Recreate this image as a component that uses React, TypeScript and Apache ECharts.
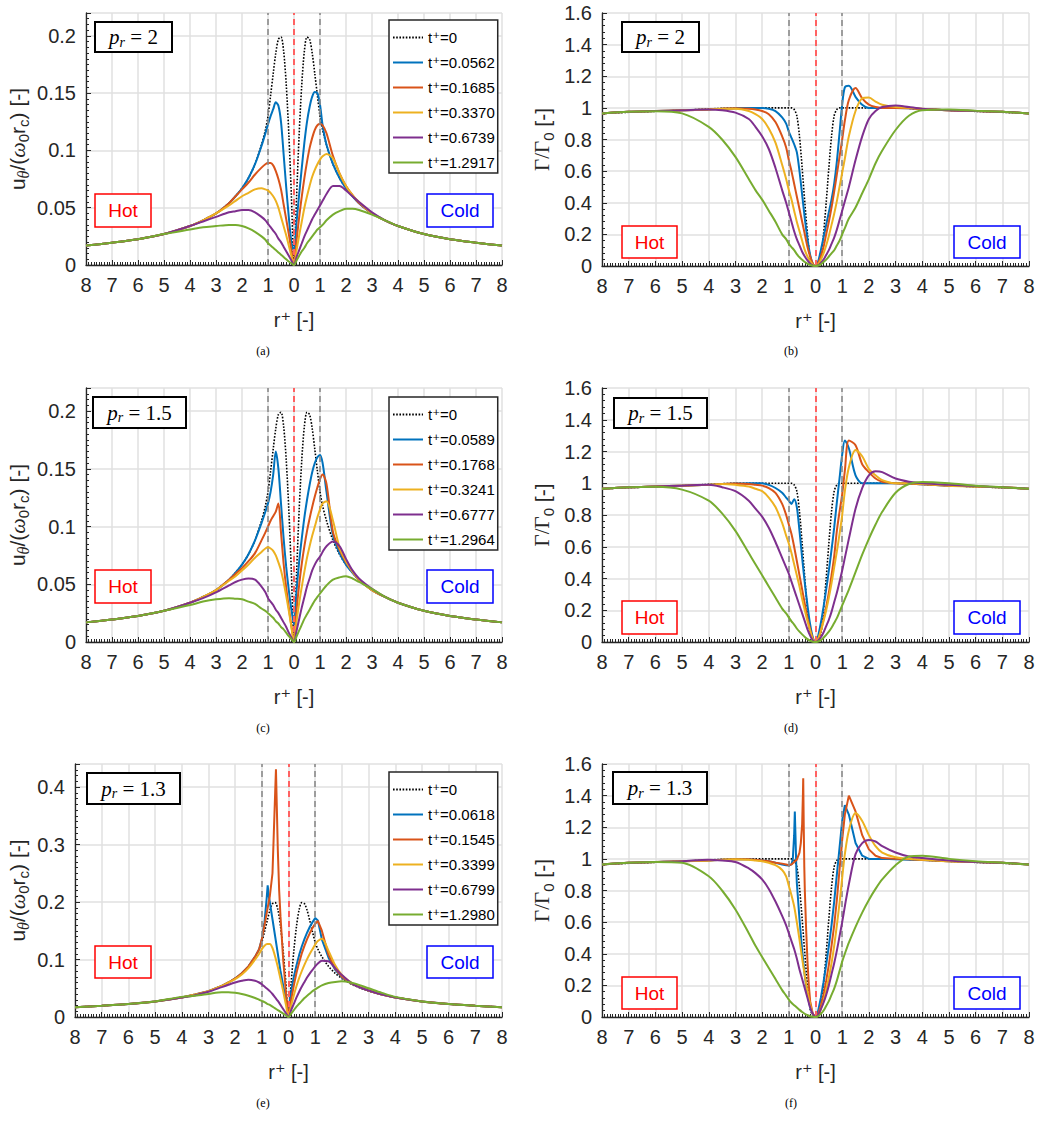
import React, { useEffect, useRef } from 'react';
import * as echarts from 'echarts';

const SANS = '"Liberation Sans", Arial, Helvetica, "DejaVu Sans", sans-serif';
const SERIF = '"Liberation Serif", "DejaVu Serif", "Times New Roman", serif';
const INK = '#262626';

// ---------- radial positions r+ (negative = hot side, labelled by |r|) ----------
const R_NEG = [-8, -7, -6, -5, -4, -3.5, -3, -2.5, -2.25, -2, -1.75, -1.5, -1.25, -1.1, -1, -0.9, -0.8, -0.7, -0.6, -0.5, -0.4, -0.3, -0.2, -0.1];
const R_POS = [0.1, 0.2, 0.3, 0.4, 0.5, 0.6, 0.7, 0.8, 0.9, 1, 1.1, 1.25, 1.5, 1.75, 2, 2.25, 2.5, 3, 3.5, 4, 5, 6, 7, 8];
const R = [...R_NEG, 0, ...R_POS];
const R_E_BLUE = [-8, -7, -6, -5, -4, -3.5, -3, -2.5, -2.25, -2, -1.75, -1.5, -1.25, -1.1, -1, -0.9, -0.82, -0.78, -0.74, -0.7, -0.6, -0.5, -0.4, -0.3, -0.2, -0.1, 0, ...R_POS];
const R_E_ORANGE = [-8, -7, -6, -5, -4, -3.5, -3, -2.5, -2.25, -2, -1.75, -1.5, -1.25, -1.1, -1, -0.9, -0.8, -0.7, -0.6, -0.55, -0.5, -0.47, -0.44, -0.4, -0.35, -0.3, -0.2, -0.1, 0, ...R_POS];
const R_F_BLUE = [-8, -7, -6, -5, -4, -3.5, -3, -2.5, -2.25, -2, -1.75, -1.5, -1.25, -1.1, -1, -0.9, -0.85, -0.8, -0.775, -0.75, -0.72, -0.7, -0.6, -0.5, -0.4, -0.3, -0.2, -0.1, 0, ...R_POS];
const R_F_ORANGE = [-8, -7, -6, -5, -4, -3.5, -3, -2.5, -2.25, -2, -1.75, -1.5, -1.25, -1.1, -1, -0.9, -0.8, -0.7, -0.6, -0.55, -0.5, -0.47, -0.46, -0.44, -0.42, -0.4, -0.35, -0.3, -0.25, -0.2, -0.1, 0, ...R_POS];

// ---------- legend labels ----------
const T_A = ['t⁺=0', 't⁺=0.0562', 't⁺=0.1685', 't⁺=0.3370', 't⁺=0.6739', 't⁺=1.2917'];
const T_C = ['t⁺=0', 't⁺=0.0589', 't⁺=0.1768', 't⁺=0.3241', 't⁺=0.6777', 't⁺=1.2964'];
const T_E = ['t⁺=0', 't⁺=0.0618', 't⁺=0.1545', 't⁺=0.3399', 't⁺=0.6799', 't⁺=1.2980'];
const P_R = ['2', '2', '1.5', '1.5', '1.3', '1.3'];
const CAPTIONS = ['(a)', '(b)', '(c)', '(d)', '(e)', '(f)'];

// ---------- initial profiles (t+=0) ----------
const uInit = [
  .017, .0195, .0225, .027, .034, .039, .045, .054,
  .06, .067, .076, .088, .105, .118, .13, .148,
  .167, .185, .197, .199, .187, .158, .115, .06,
  0,
  .06, .115, .158, .187, .199, .197, .185, .167,
  .148, .13, .118, .105, .088, .076, .067, .06,
  .054, .045, .039, .034, .027, .0225, .0195, .017];
const gInit = [
  .965, .972, .978, .985, .993, .997, 1, 1,
  1, 1, 1, 1, 1, 1, 1, 1,
  .99, .95, .82, .62, .4, .2, .05, .01,
  0,
  .01, .05, .2, .4, .62, .82, .95, .99,
  1, 1, 1, 1, 1, 1, 1, 1,
  1, 1, .997, .993, .985, .978, .972, .965];

// ---------- (a) u, p_r = 2 ----------
const aBlue = [
  .017, .0195, .0225, .027, .034, .039, .045, .054,
  .06, .067, .076, .088, .104, .115, .123, .13,
  .136, .142, .139, .125, .097, .068, .042, .02,
  .012,
  .038, .062, .085, .107, .125, .138, .147, .151,
  .15, .14, .122, .105, .088, .076, .067, .06,
  .054, .045, .039, .034, .027, .0225, .0195, .017];
const aOrange = [
  .017, .0195, .0225, .027, .034, .039, .045, .054,
  .06, .066, .072, .079, .085, .088, .089, .089,
  .087, .082, .075, .066, .053, .04, .027, .013,
  0,
  .022, .042, .06, .076, .09, .102, .111, .118,
  .122, .123, .122, .115, .095, .08, .069, .061,
  .054, .045, .039, .034, .027, .0225, .0195, .017];
const aYellow = [
  .017, .0195, .0225, .027, .034, .039, .045, .052,
  .056, .06, .063, .066, .067, .066, .065, .063,
  .06, .056, .05, .042, .034, .026, .017, .008,
  0,
  .013, .026, .038, .05, .06, .069, .077, .083,
  .088, .092, .095, .097, .093, .08, .069, .061,
  .055, .045, .039, .034, .027, .0225, .0195, .017];
const aPurple = [
  .017, .0195, .0225, .027, .034, .038, .042, .046,
  .047, .048, .048, .046, .042, .039, .036, .033,
  .03, .027, .023, .02, .016, .012, .008, .004,
  0,
  .007, .013, .019, .025, .03, .035, .04, .044,
  .048, .052, .056, .062, .069, .069, .065, .06,
  .055, .046, .039, .034, .027, .0225, .0195, .017];
const aGreen = [
  .017, .0195, .0225, .027, .031, .033, .034, .035,
  .035, .034, .032, .029, .025, .022, .019, .017,
  .015, .013, .011, .009, .007, .005, .003, .0015,
  0,
  .004, .008, .012, .015, .019, .022, .025, .028,
  .031, .033, .035, .039, .044, .047, .049, .049,
  .048, .044, .039, .034, .027, .0225, .0195, .017];

// ---------- (b) Gamma, p_r = 2 ----------
const bBlue = [
  .965, .975, .98, .985, .99, .995, .998, 1,
  1, 1, .995, .98, .94, .9, .85, .81,
  .77, .72, .6, .45, .3, .17, .07, .015,
  0,
  .03, .1, .18, .26, .34, .42, .52, .66,
  .84, 1.02, 1.13, 1.14, 1.07, 1.02, 1, 1,
  1, 1, .998, .993, .985, .98, .975, .965];
const bOrange = [
  .965, .975, .98, .985, .99, .995, .998, .995,
  .99, .98, .96, .91, .82, .75, .67, .6,
  .52, .44, .36, .28, .2, .12, .06, .015,
  0,
  .02, .06, .12, .2, .28, .37, .47, .58,
  .69, .8, .92, 1.05, 1.125, 1.06, 1.02, 1.005,
  1, 1, .998, .993, .985, .98, .975, .965];
const bYellow = [
  .965, .975, .98, .985, .99, .995, .995, .98,
  .96, .93, .87, .78, .64, .55, .48, .42,
  .35, .28, .22, .16, .1, .06, .03, .01,
  0,
  .01, .04, .08, .13, .19, .26, .33, .41,
  .5, .59, .68, .82, .98, 1.06, 1.065, 1.04,
  1.02, 1.005, 1, .995, .985, .98, .975, .965];
const bPurple = [
  .965, .975, .98, .985, .99, .985, .97, .93,
  .88, .82, .74, .62, .48, .4, .34, .28,
  .22, .17, .13, .09, .06, .035, .015, .004,
  0,
  .005, .02, .04, .07, .1, .14, .18, .23,
  .29, .35, .41, .5, .67, .82, .93, .98,
  1.005, 1.015, 1.005, .995, .985, .98, .975, .965];
const bGreen = [
  .965, .975, .978, .965, .88, .8, .69, .55,
  .48, .42, .35, .28, .2, .17, .14, .12,
  .1, .075, .055, .04, .025, .015, .006, .002,
  0,
  .003, .01, .025, .04, .06, .08, .1, .13,
  .16, .2, .24, .3, .37, .46, .55, .65,
  .73, .86, .95, .985, .99, .982, .975, .965];

// ---------- (c) u, p_r = 1.5 ----------
const cBlue = [
  .017, .0195, .0225, .027, .034, .039, .045, .054,
  .06, .067, .076, .088, .103, .113, .12, .13,
  .145, .165, .15, .12, .09, .065, .045, .028,
  .015,
  .045, .07, .09, .108, .123, .136, .147, .155,
  .16, .162, .155, .13, .092, .077, .067, .06,
  .054, .045, .039, .034, .027, .0225, .0195, .017];
const cOrange = [
  .017, .0195, .0225, .027, .034, .039, .045, .054,
  .059, .064, .07, .077, .088, .095, .1, .105,
  .109, .113, .12, .095, .068, .047, .03, .014,
  0,
  .028, .05, .068, .083, .096, .107, .117, .126,
  .134, .141, .145, .137, .095, .08, .069, .061,
  .054, .045, .039, .034, .027, .0225, .0195, .017];
const cYellow = [
  .017, .0195, .0225, .027, .034, .039, .045, .053,
  .057, .062, .067, .073, .078, .081, .082, .081,
  .079, .075, .069, .062, .052, .04, .027, .013,
  0,
  .018, .034, .048, .061, .073, .083, .092, .1,
  .108, .115, .12, .122, .105, .082, .07, .061,
  .054, .045, .039, .034, .027, .0225, .0195, .017];
const cPurple = [
  .017, .0195, .0225, .027, .034, .038, .043, .049,
  .052, .054, .055, .054, .048, .043, .038, .035,
  .032, .028, .025, .021, .017, .013, .008, .004,
  0,
  .01, .02, .03, .039, .048, .055, .062, .067,
  .071, .074, .078, .083, .087, .083, .072, .062,
  .055, .046, .039, .034, .027, .0225, .0195, .017];
const cGreen = [
  .017, .0195, .0225, .027, .032, .035, .037, .038,
  .0375, .037, .035, .033, .029, .027, .025, .023,
  .021, .018, .016, .013, .011, .008, .005, .0025,
  0,
  .005, .01, .015, .02, .024, .028, .032, .036,
  .039, .042, .045, .049, .054, .056, .057, .055,
  .052, .046, .039, .034, .027, .0225, .0195, .017];

// ---------- (d) Gamma, p_r = 1.5 ----------
const dBlue = [
  .965, .975, .98, .985, .99, .995, .998, 1,
  1, 1, .99, .97, .94, .91, .89, .87,
  .9, .85, .7, .53, .37, .23, .11, .03,
  0,
  .04, .12, .22, .33, .45, .58, .72, .88,
  1.03, 1.18, 1.27, 1.22, 1.05, 1, 1, 1,
  1, 1, .998, .993, .985, .98, .975, .965];
const dOrange = [
  .965, .975, .98, .985, .99, .995, .998, .995,
  .99, .985, .97, .94, .87, .8, .74, .68,
  .6, .51, .42, .33, .24, .15, .08, .02,
  0,
  .02, .07, .14, .22, .31, .42, .54, .7,
  .82, .93, 1.08, 1.27, 1.24, 1.12, 1.07, 1.03,
  1.01, 1, .998, .993, .985, .98, .975, .965];
const dYellow = [
  .965, .975, .98, .985, .99, .995, .99, .98,
  .965, .95, .91, .85, .75, .67, .62, .56,
  .49, .42, .35, .27, .2, .13, .07, .02,
  0,
  .02, .07, .13, .2, .28, .37, .47, .57,
  .68, .8, .95, 1.1, 1.21, 1.17, 1.09, 1.05,
  1.02, 1, 1, .995, .985, .98, .975, .965];
const dPurple = [
  .965, .975, .98, .985, .99, .975, .95, .89,
  .84, .79, .72, .63, .53, .47, .43, .38,
  .33, .28, .23, .18, .13, .08, .04, .01,
  0,
  .01, .03, .06, .1, .14, .19, .25, .31,
  .38, .45, .53, .65, .84, .97, 1.05, 1.075,
  1.07, 1.03, 1.01, 1, .99, .982, .975, .965];
const dGreen = [
  .965, .975, .978, .96, .89, .81, .7, .56,
  .49, .42, .35, .28, .21, .18, .155, .13,
  .11, .085, .065, .048, .032, .018, .008, .002,
  0,
  .003, .012, .027, .045, .065, .09, .12, .15,
  .19, .23, .27, .33, .44, .55, .65, .74,
  .82, .94, .995, 1.008, 1, .985, .975, .965];

// ---------- (e) u, p_r = 1.3 ----------
const eBlue = [
  .017, .0195, .0225, .027, .034, .039, .045, .054,
  .06, .067, .076, .088, .105, .118, .135, .165,
  .205, .229, .21, .2, .17, .14, .11, .08, .055, .03,
  .012,
  .045, .07, .09, .108, .123, .136, .147, .157,
  .165, .172, .168, .135, .103, .082, .069, .061,
  .055, .046, .039, .034, .027, .0225, .0195, .017];
const eOrange = [
  .017, .0195, .0225, .027, .034, .039, .045, .054,
  .06, .067, .076, .088, .105, .118, .135, .16,
  .185, .21, .25, .32, .39, .431, .37, .29, .22, .175, .1, .045,
  0,
  .03, .055, .077, .095, .111, .124, .136, .146,
  .155, .162, .167, .15, .108, .084, .07, .061,
  .055, .046, .039, .034, .027, .0225, .0195, .017];
const eYellow = [
  .017, .0195, .0225, .027, .034, .039, .045, .054,
  .06, .066, .074, .085, .1, .11, .118, .124,
  .127, .127, .12, .105, .087, .066, .045, .022,
  0,
  .02, .038, .054, .068, .08, .091, .101, .11,
  .118, .126, .132, .136, .115, .09, .073, .063,
  .056, .046, .039, .034, .027, .0225, .0195, .017];
const ePurple = [
  .017, .0195, .0225, .027, .034, .038, .044, .052,
  .056, .06, .063, .065, .063, .06, .057, .053,
  .049, .045, .04, .034, .028, .021, .014, .007,
  0,
  .012, .023, .034, .044, .053, .061, .069, .076,
  .082, .088, .093, .098, .097, .085, .073, .063,
  .055, .046, .039, .034, .027, .0225, .0195, .017];
const eGreen = [
  .017, .0195, .0225, .027, .035, .037, .04, .043,
  .043, .042, .04, .037, .033, .03, .028, .026,
  .023, .021, .018, .015, .012, .009, .006, .003,
  0,
  .006, .012, .018, .023, .028, .033, .037, .041,
  .045, .048, .051, .055, .059, .061, .062, .061,
  .058, .05, .042, .035, .027, .0225, .0195, .017];

// ---------- (f) Gamma, p_r = 1.3 ----------
const fBlue = [
  .965, .975, .98, .985, .99, .995, .998, .998,
  .995, .99, .985, .975, .965, .96, .958, .965,
  1.0, 1.15, 1.3, 1.15, .95, .85, .62, .42, .26, .14, .06, .015,
  0,
  .04, .12, .22, .33, .45, .58, .73, .9,
  1.07, 1.24, 1.34, 1.28, 1.1, 1.02, 1, 1,
  1, .998, .995, .993, .985, .98, .975, .965];
const fOrange = [
  .965, .975, .98, .985, .99, .995, .998, .998,
  .995, .99, .985, .975, .97, .965, .96, .965,
  .98, .995, 1.04, 1.1, 1.22, 1.42, 1.51, 1.2, .95, .8, .55, .35, .2, .1, .02,
  0,
  .02, .07, .14, .23, .33, .45, .58, .74,
  .93, 1.12, 1.28, 1.4, 1.3, 1.15, 1.06, 1.02,
  1.005, 1, .997, .993, .985, .98, .975, .965];
const fYellow = [
  .965, .975, .98, .985, .99, .995, .998, .995,
  .99, .985, .975, .96, .93, .89, .83, .77,
  .7, .6, .49, .37, .26, .16, .08, .02,
  0,
  .01, .05, .1, .17, .25, .34, .45, .58,
  .72, .88, 1.03, 1.18, 1.29, 1.24, 1.15, 1.08,
  1.04, 1.01, 1, .995, .985, .98, .975, .965];
const fPurple = [
  .965, .975, .98, .985, .995, .99, .98, .94,
  .91, .87, .81, .73, .64, .58, .53, .48,
  .43, .37, .3, .24, .18, .12, .06, .02,
  0,
  .015, .05, .09, .14, .2, .27, .34, .42,
  .51, .6, .7, .84, 1.03, 1.1, 1.12, 1.11,
  1.08, 1.04, 1.015, 1.005, .99, .98, .975, .965];
const fGreen = [
  .965, .975, .98, .975, .89, .8, .68, .53,
  .45, .38, .31, .24, .17, .135, .11, .09,
  .075, .06, .045, .032, .02, .012, .005, .001,
  0,
  .005, .02, .04, .07, .1, .14, .18, .23,
  .29, .35, .4, .47, .57, .66, .74, .81,
  .87, .96, 1.015, 1.02, 1, .985, .975, .965];

// ---------- styling ----------
const COLORS = ['#000000', '#0072BD', '#D95319', '#EDB120', '#7E2F8E', '#77AC30'];

type Panel = {
  grid: { left: number; top: number; width: number; height: number };
  kind: 'u' | 'g';
  yMax: number;
  yInterval: number;
  yMinor: number;
  nameGap: number;
  names: string[];
  xs: number[][];
  ys: number[][];
  smooth: boolean[];
  pBox: number[];
  hot: number[];
  cold: number[];
  caption: number[];
  legend?: number[];
};

const PANELS: Panel[] = [
  {
    grid: { left: 86, top: 13, width: 416, height: 252 }, kind: 'u', yMax: 0.22, yInterval: 0.05, yMinor: 10, nameGap: 55,
    names: T_A, xs: [R, R, R, R, R, R], ys: [uInit, aBlue, aOrange, aYellow, aPurple, aGreen], smooth: [true, true, true, true, true, true],
    pBox: [95, 22, 77, 30], hot: [95, 194, 56, 33], cold: [427, 194, 66, 33], caption: [263, 351], legend: [389, 20],
  },
  {
    grid: { left: 602, top: 13, width: 427, height: 253 }, kind: 'g', yMax: 1.6, yInterval: 0.2, yMinor: 5, nameGap: 46,
    names: T_A, xs: [R, R, R, R, R, R], ys: [gInit, bBlue, bOrange, bYellow, bPurple, bGreen], smooth: [true, true, true, true, true, true],
    pBox: [622, 22, 77, 30], hot: [622, 226, 55, 32], cold: [954, 226, 66, 32], caption: [791, 351],
  },
  {
    grid: { left: 86, top: 388, width: 416, height: 254 }, kind: 'u', yMax: 0.22, yInterval: 0.05, yMinor: 10, nameGap: 55,
    names: T_C, xs: [R, R, R, R, R, R], ys: [uInit, cBlue, cOrange, cYellow, cPurple, cGreen], smooth: [true, true, true, true, true, true],
    pBox: [93, 397, 93, 31], hot: [95, 570, 56, 33], cold: [427, 570, 66, 33], caption: [263, 728], legend: [389, 397],
  },
  {
    grid: { left: 602, top: 388, width: 427, height: 254 }, kind: 'g', yMax: 1.6, yInterval: 0.2, yMinor: 5, nameGap: 46,
    names: T_C, xs: [R, R, R, R, R, R], ys: [gInit, dBlue, dOrange, dYellow, dPurple, dGreen], smooth: [true, true, true, true, true, true],
    pBox: [614, 398, 93, 30], hot: [622, 601, 55, 33], cold: [954, 601, 66, 33], caption: [791, 728],
  },
  {
    grid: { left: 75, top: 764, width: 427, height: 253 }, kind: 'u', yMax: 0.44, yInterval: 0.1, yMinor: 10, nameGap: 44,
    names: T_E, xs: [R, R_E_BLUE, R_E_ORANGE, R, R, R], ys: [uInit, eBlue, eOrange, eYellow, ePurple, eGreen], smooth: [true, false, false, true, true, true],
    pBox: [87, 773, 93, 31], hot: [95, 946, 56, 32], cold: [427, 946, 66, 32], caption: [263, 1103], legend: [389, 772],
  },
  {
    grid: { left: 602, top: 764, width: 427, height: 253 }, kind: 'g', yMax: 1.6, yInterval: 0.2, yMinor: 5, nameGap: 46,
    names: T_E, xs: [R, R_F_BLUE, R_F_ORANGE, R, R, R], ys: [gInit, fBlue, fOrange, fYellow, fPurple, fGreen], smooth: [true, false, false, true, true, true],
    pBox: [613, 772, 94, 32], hot: [622, 977, 55, 32], cold: [954, 977, 66, 32], caption: [791, 1103],
  },
];

const zip = (xs: number[], ys: number[]) => xs.map((x, i) => [x, ys[i]]);

const nameRich = {
  n: { fontSize: 21, fontFamily: SANS, color: INK, lineHeight: 28 },
  s: { fontSize: 15, fontFamily: SANS, color: INK, lineHeight: 14, verticalAlign: 'bottom' },
  gs: { fontSize: 16, fontFamily: SERIF, fontStyle: 'italic', color: INK, lineHeight: 14, verticalAlign: 'bottom' },
  w: { fontSize: 22, fontFamily: SERIF, fontStyle: 'italic', color: INK, lineHeight: 28 },
  G: { fontSize: 21, fontFamily: SERIF, color: INK, lineHeight: 28 },
};
const U_NAME = '{n|u}{gs|θ}{n|/(}{w|ω}{s|0}{n|r}{s|c}{n|) [-]}';
const G_NAME = '{G|Γ/Γ}{s|0}{n| [-]}';

function buildOption() {
  const grid: any[] = [];
  const xAxis: any[] = [];
  const yAxis: any[] = [];
  const series: any[] = [];
  const legend: any[] = [];
  const graphic: any[] = [];

  PANELS.forEach((p, k) => {
    grid.push({ ...p.grid, containLabel: false });
    xAxis.push({
      type: 'value', gridIndex: k, min: -8, max: 8, interval: 1,
      axisLine: { show: true, onZero: false, lineStyle: { color: INK, width: 1.3 } },
      axisTick: { show: true, inside: true, length: 5, lineStyle: { color: INK, width: 1 } },
      minorTick: { show: true, splitNumber: 10, length: 3, lineStyle: { color: INK, width: 1 } },
      splitLine: { show: true, lineStyle: { color: '#e1e1e1', width: 1.5 } },
      axisLabel: { formatter: (v: number) => String(Math.abs(Math.round(v))), fontSize: 20, fontFamily: SANS, color: INK, margin: 10 },
      name: 'r⁺ [-]', nameLocation: 'middle', nameGap: 45,
      nameTextStyle: { fontSize: 20, fontFamily: SANS, color: INK },
    });
    yAxis.push({
      type: 'value', gridIndex: k, min: 0, max: p.yMax, interval: p.yInterval,
      axisLine: { show: true, onZero: false, lineStyle: { color: INK, width: 1.3 } },
      axisTick: { show: true, inside: true, length: 5, lineStyle: { color: INK, width: 1 } },
      minorTick: { show: true, splitNumber: p.yMinor, length: 3, lineStyle: { color: INK, width: 1 } },
      splitLine: { show: true, lineStyle: { color: '#e1e1e1', width: 1.5 } },
      axisLabel: { fontSize: 20, fontFamily: SANS, color: INK, margin: 10, showMaxLabel: p.kind === 'g' },
      name: p.kind === 'u' ? U_NAME : G_NAME, nameLocation: 'middle', nameRotate: 90, nameGap: p.nameGap,
      nameTextStyle: { rich: nameRich },
    });

    p.ys.forEach((ys, j) => {
      const dotted = j === 0;
      series.push({
        type: 'line', name: p.names[j], xAxisIndex: k, yAxisIndex: k,
        data: zip(p.xs[j], ys), symbol: 'none', smooth: p.smooth[j] ? 0.3 : false,
        lineStyle: { color: COLORS[j], width: dotted ? 1.6 : 2, type: dotted ? [1.6, 1.6] : 'solid' },
        itemStyle: { color: COLORS[j] }, z: 2 + j, silent: true,
      });
    });

    series.push({
      type: 'line', name: 'guides', xAxisIndex: k, yAxisIndex: k, data: [[0, 0]], symbol: 'none',
      lineStyle: { width: 0, opacity: 0 }, z: 9, silent: true,
      markLine: {
        silent: true, symbol: ['none', 'none'], label: { show: false }, animation: false,
        data: [
          { xAxis: -1, lineStyle: { color: '#8a8a8a', type: [6, 4], width: 1.6 } },
          { xAxis: 1, lineStyle: { color: '#8a8a8a', type: [6, 4], width: 1.6 } },
          { xAxis: 0, lineStyle: { color: '#ff6262', type: [6, 4], width: 2 } },
        ],
      },
    });

    if (p.legend) {
      legend.push({
        orient: 'vertical', left: p.legend[0], top: p.legend[1], data: p.names,
        itemWidth: 30, itemHeight: 14, itemGap: 10, padding: [10, 3, 3, 3],
        backgroundColor: '#ffffff', borderColor: INK, borderWidth: 1.5, borderRadius: 0,
        itemStyle: { opacity: 0 }, selectedMode: false,
        textStyle: { fontSize: 15, fontFamily: SANS, color: '#000' },
      });
    }

    const [bx, by, bw, bh] = p.pBox;
    graphic.push({ type: 'rect', shape: { x: bx, y: by, width: bw, height: bh }, style: { fill: '#fff', stroke: '#000', lineWidth: 2 }, z: 20 });
    graphic.push({
      type: 'text', x: bx + bw / 2, y: by + bh / 2, z: 21,
      style: {
        text: `{i|p}{s|r}{n| = ${P_R[k]}}`, align: 'center', verticalAlign: 'middle',
        rich: {
          i: { fontSize: 21, fontFamily: SERIF, fontStyle: 'italic', fill: '#000', lineHeight: 24 },
          s: { fontSize: 14, fontFamily: SERIF, fontStyle: 'italic', fill: '#000', lineHeight: 12, verticalAlign: 'bottom' },
          n: { fontSize: 21, fontFamily: SERIF, fill: '#000', lineHeight: 24 },
        },
      },
    });
    const [hx, hy, hw, hh] = p.hot;
    graphic.push({ type: 'rect', shape: { x: hx, y: hy, width: hw, height: hh }, style: { fill: '#fff', stroke: '#ff0000', lineWidth: 1.5 }, z: 20 });
    graphic.push({ type: 'text', x: hx + hw / 2, y: hy + hh / 2, z: 21, style: { text: 'Hot', fill: '#ff0000', fontSize: 19, fontFamily: SANS, align: 'center', verticalAlign: 'middle' } });
    const [cx, cy, cw, ch] = p.cold;
    graphic.push({ type: 'rect', shape: { x: cx, y: cy, width: cw, height: ch }, style: { fill: '#fff', stroke: '#0000ff', lineWidth: 1.5 }, z: 20 });
    graphic.push({ type: 'text', x: cx + cw / 2, y: cy + ch / 2, z: 21, style: { text: 'Cold', fill: '#0000ff', fontSize: 19, fontFamily: SANS, align: 'center', verticalAlign: 'middle' } });
    graphic.push({ type: 'text', x: p.caption[0], y: p.caption[1], z: 21, style: { text: CAPTIONS[k], fill: '#000', fontSize: 12, fontFamily: SERIF, align: 'center', verticalAlign: 'middle' } });
  });

  return { animation: false, backgroundColor: '#ffffff', grid, xAxis, yAxis, series, legend, graphic };
}

export default function App() {
  const ref = useRef<HTMLDivElement>(null);
  useEffect(() => {
    if (!ref.current) return;
    const chart = echarts.init(ref.current, null, { renderer: 'svg' });
    chart.setOption(buildOption() as any);
    return () => chart.dispose();
  }, []);
  return <div ref={ref} style={{ position: 'absolute', left: 0, top: 0, width: 1039, height: 1134, background: '#fff' }} />;
}
